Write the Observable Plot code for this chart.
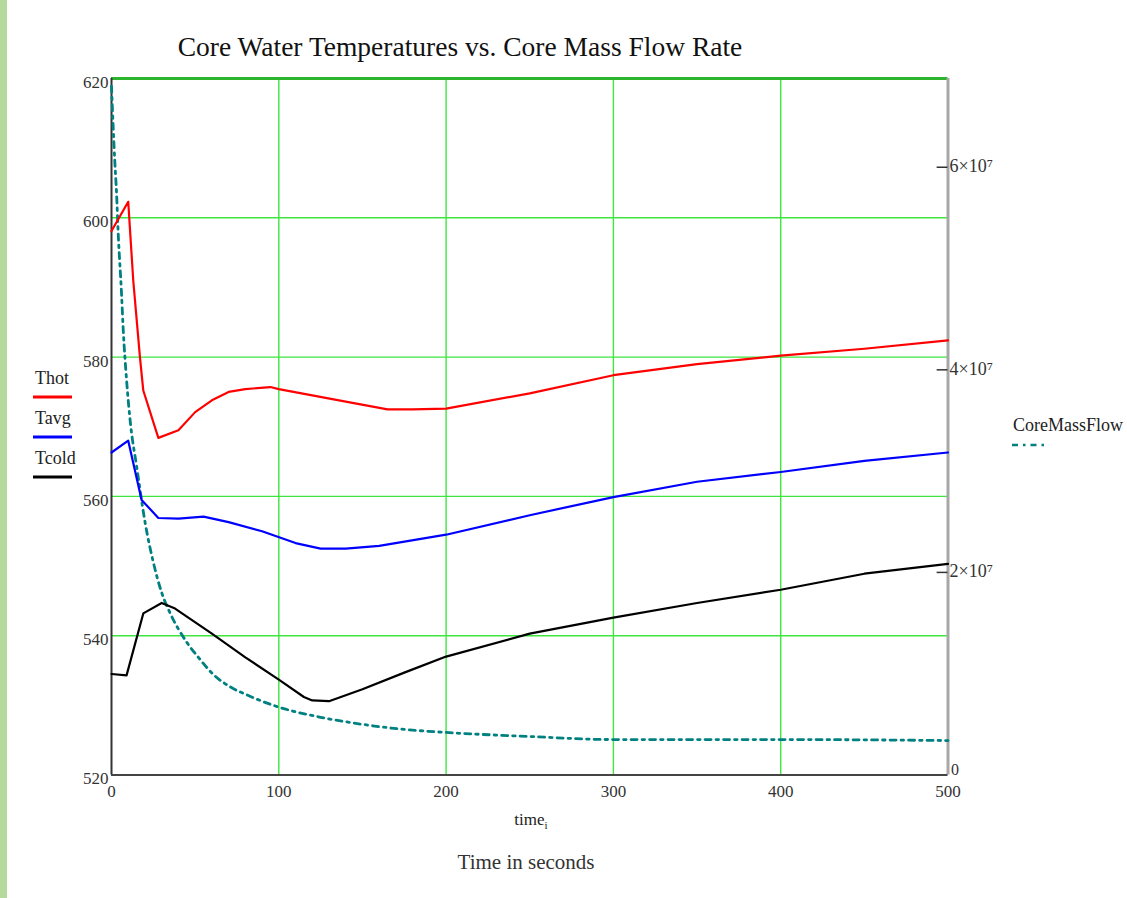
<!DOCTYPE html>
<html>
<head>
<meta charset="utf-8">
<script src="https://cdn.jsdelivr.net/npm/d3@7"></script>
<script src="https://cdn.jsdelivr.net/npm/@observablehq/plot@0.6"></script>
<style>
  html, body { margin: 0; padding: 0; background: #fff; }
  #wrap { position: relative; width: 1127px; height: 898px; overflow: hidden; font-family: "Liberation Serif", "DejaVu Serif", serif; }
  #band { position: absolute; left: 0; top: 0; width: 7px; height: 898px; background: #b5d99c; }
  .lbl { position: absolute; line-height: 1; white-space: nowrap; color: #222; }
  .c { transform: translate(-50%, -50%); }
  .l { transform: translate(0, -50%); }
  #chart { position: absolute; left: 0; top: 0; }
  svg.sw { position: absolute; overflow: visible; }
</style>
</head>
<body>
<div id="wrap">
  <div id="chart"></div>
  <div id="band"></div>
  <div class="lbl c" style="left:460px;top:47px;font-size:27.5px;color:#111;">Core Water Temperatures vs. Core Mass Flow Rate</div>
  <div class="lbl c" style="left:531px;top:821px;font-size:17px;">time<sub style="font-size:11px;">i</sub></div>
  <div class="lbl c" style="left:526px;top:862px;font-size:21px;color:#333;">Time in seconds</div>
  <div id="legend"></div>
</div>
<script>
// ---- data ----
const thotTime = [0,10,13,17,19,28,40,50,60,70,80,95,100,120,140,165,180,200,250,300,350,400,450,500];
const thotTemp = [598.1,602.3,591,580,575.2,568.4,569.5,572.1,573.8,575,575.4,575.7,575.4,574.5,573.6,572.5,572.5,572.6,574.8,577.4,579,580.2,581.2,582.4];

const tavgTime = [0,10,18,28,40,55,70,90,110,125,140,160,200,250,300,350,400,450,500];
const tavgTemp = [566.3,568.0,559.5,556.9,556.8,557.1,556.3,555.0,553.3,552.5,552.5,552.9,554.5,557.3,559.9,562.1,563.5,565.1,566.3];

const tcoldTime = [0,9,19,30,38,60,80,100,115,120,130,150,175,200,250,300,350,400,450,500];
const tcoldTemp = [534.5,534.3,543.2,544.7,543.9,540.3,536.9,533.7,531.2,530.7,530.6,532.3,534.7,537,540.3,542.6,544.7,546.6,548.9,550.3];

const flowTime = [0,1,2,3,4,6,7,9,11.4,15,20,25,30,35,45,52,61,71,81,100,125,150,175,200,250,300,400,500];
const flowRate = [6.8e7,6.4e7,6.05e7,5.75e7,5.35e7,4.75e7,4.4e7,3.9e7,3.46e7,3.05e7,2.5e7,2.1e7,1.8e7,1.6e7,1.31e7,1.16e7,0.99e7,0.87e7,0.79e7,0.67e7,0.57e7,0.5e7,0.45e7,0.42e7,0.38e7,0.35e7,0.35e7,0.34e7];

const xTicks = [0,100,200,300,400,500];
const yTicks = [520,540,560,580,600,620];
const rightTicks = [0,2e7,4e7,6e7];
const rightTickLabels = ["0","2×10⁷","4×10⁷","6×10⁷"];

const legendItems = [
  {name:"Thot", color:"#ff0000"},
  {name:"Tavg", color:"#0000ff"},
  {name:"Tcold", color:"#000000"}
];

// ---- scales ----
const yDomain = [520, 620];
const xDomain = [0, 500];
const flowMax = 6.876e7;
const flowToY = v => yDomain[0] + v / flowMax * (yDomain[1] - yDomain[0]);

const series = (t, v) => t.map((d, i) => ({t: d, v: v[i]}));
const thot = series(thotTime, thotTemp);
const tavg = series(tavgTime, tavgTemp);
const tcold = series(tcoldTime, tcoldTemp);
const flow = flowTime.map((d, i) => ({t: d, v: flowToY(flowRate[i])}));
const rightTickPos = rightTicks.map(flowToY);
const labelFor = new Map(rightTickPos.map((p, i) => [p, rightTickLabels[i]]));

const plot = Plot.plot({
  width: 1127,
  height: 898,
  marginLeft: 111,
  marginRight: 179.5,
  marginTop: 78,
  marginBottom: 123.5,
  style: {fontFamily: "Liberation Serif, DejaVu Serif, serif", fontSize: "17px", color: "#333", background: "transparent"},
  x: {domain: xDomain},
  y: {domain: yDomain},
  marks: [
    // grid
    Plot.ruleX(xTicks.slice(1, -1), {stroke: "#3ee63e", strokeWidth: 1.4}),
    Plot.ruleY(yTicks.slice(1, -1), {stroke: "#3ee63e", strokeWidth: 1.4}),
    // frame
    Plot.ruleY([620], {stroke: "#2db52d", strokeWidth: 3}),
    Plot.ruleX([500], {stroke: "#a8a8a8", strokeWidth: 3}),
    Plot.ruleX([0], {stroke: "#333", strokeWidth: 2}),
    Plot.ruleY([520], {stroke: "#444", strokeWidth: 2}),
    // right tick marks
    Plot.ruleY(rightTickPos.slice(1), {x1: 493.5, x2: 500, stroke: "#333", strokeWidth: 1.5}),
    // curves
    Plot.line(flow, {x: "t", y: "v", stroke: "#008080", strokeWidth: 2.8, strokeDasharray: "6,5,2.5,5", curve: "monotone-x"}),
    Plot.line(thot, {x: "t", y: "v", stroke: "#ff0000", strokeWidth: 2.2}),
    Plot.line(tavg, {x: "t", y: "v", stroke: "#0000ff", strokeWidth: 2.2}),
    Plot.line(tcold, {x: "t", y: "v", stroke: "#000000", strokeWidth: 2.2}),
    // axes
    Plot.axisX({ticks: xTicks, tickSize: 0, tickPadding: 10, label: null, tickFormat: d => String(d)}),
    Plot.axisY({ticks: yTicks, tickSize: 0, tickPadding: 3, dy: 4, label: null, tickFormat: d => String(d)}),
    Plot.axisY({anchor: "right", ticks: rightTickPos.slice(1), tickSize: 0, tickPadding: 1.5, dy: -1, fontSize: 18, label: null,
      tickFormat: d => labelFor.get(d)}),
    Plot.axisY({anchor: "right", ticks: rightTickPos.slice(0, 1), tickSize: 0, tickPadding: 3, dy: -5, fontSize: 16, label: null,
      tickFormat: d => labelFor.get(d)})
  ]
});
document.getElementById("chart").appendChild(plot);

// ---- legend ----
const leg = document.getElementById("legend");
legendItems.forEach((it, i) => {
  const cy = 378 + i * 40;
  const t = document.createElement("div");
  t.className = "lbl l";
  t.style.left = "35px"; t.style.top = cy + "px"; t.style.fontSize = "18px";
  t.textContent = it.name;
  leg.appendChild(t);
  const s = document.createElementNS("http://www.w3.org/2000/svg", "svg");
  s.setAttribute("class", "sw");
  s.setAttribute("width", "40"); s.setAttribute("height", "4");
  s.style.left = "33px"; s.style.top = (cy + 17) + "px";
  s.innerHTML = `<line x1="0" y1="2" x2="39" y2="2" stroke="${it.color}" stroke-width="3"/>`;
  leg.appendChild(s);
});
{
  const t = document.createElement("div");
  t.className = "lbl l";
  t.style.left = "1013px"; t.style.top = "425px"; t.style.fontSize = "18px";
  t.textContent = "CoreMassFlow";
  leg.appendChild(t);
  const s = document.createElementNS("http://www.w3.org/2000/svg", "svg");
  s.setAttribute("class", "sw");
  s.setAttribute("width", "40"); s.setAttribute("height", "4");
  s.style.left = "1012px"; s.style.top = "443px";
  s.innerHTML = `<line x1="0" y1="2" x2="37" y2="2" stroke="#008080" stroke-width="2.6" stroke-dasharray="6,5,2.5,5"/>`;
  leg.appendChild(s);
}
</script>
</body>
</html>
